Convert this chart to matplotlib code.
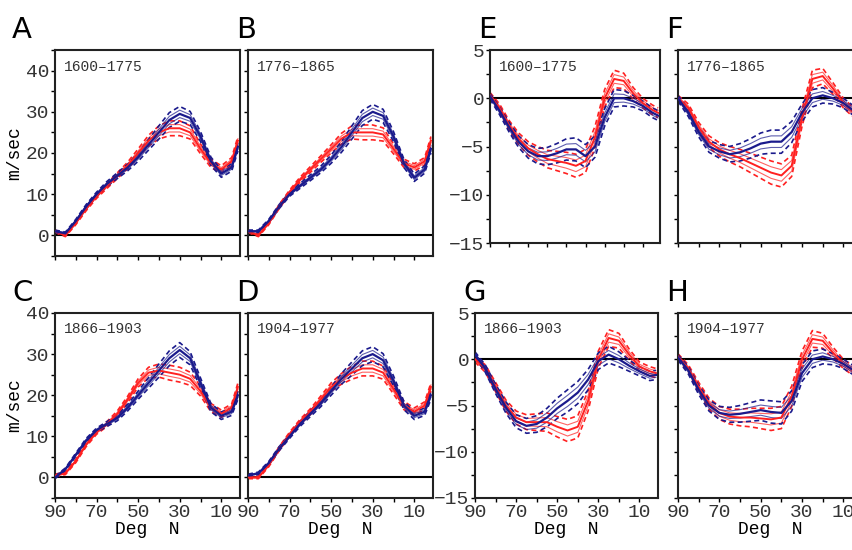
import numpy as np
import matplotlib.pyplot as plt
from matplotlib.ticker import MultipleLocator

lats = [90, 85, 80, 75, 70, 65, 60, 55, 50, 45, 40, 35, 30, 25, 20, 15, 10, 5, 2]

# zonal wind (A-D)
a_red = [1, 0, 3, 6.5, 9.5, 12, 14.5, 17, 20, 23, 25, 26, 26, 25, 21, 17.5, 16, 18, 23]
a_blue = [1, 0.5, 3.5, 7, 10, 12.5, 14.5, 16.5, 19, 22, 25, 28, 29.5, 28.5, 24, 18, 15, 16.5, 21.5]
b_red = [1, 0, 3, 7, 10.5, 13.5, 16, 18.5, 21, 23.5, 25, 25, 25, 24.5, 21, 17.5, 16.5, 18, 23]
b_blue = [1, 1, 3.5, 7, 10, 12, 14, 16, 18.5, 21.5, 25, 28.5, 30, 29, 24, 17.5, 14, 16, 21]
c_red = [0.5, 1, 4, 8, 11, 13, 15.5, 19, 23, 25.5, 26, 25.5, 25, 24, 21, 17, 15.5, 17, 22]
c_blue = [0, 2, 5.5, 9, 11.5, 13, 14.5, 17, 20, 23, 26, 29, 31, 29, 23, 17, 15, 16, 20]
d_red = [0, 0, 3, 7, 10.5, 13.5, 16, 19, 22, 24, 25.5, 26.5, 26.5, 25.5, 21.5, 17.5, 16, 17.5, 22]
d_blue = [0.5, 1, 3.5, 7, 10, 13, 15.5, 18, 21, 24, 26.5, 29, 30, 28.5, 23.5, 17.5, 15, 16, 20]
wind_spread = [0.3, 0.3, 0.4, 0.5, 0.5, 0.6, 0.7, 0.8, 1.0, 1.3, 1.6, 1.8, 1.8, 1.6, 1.2, 1.0, 0.9, 0.9, 1.0]

# anomalies (E-H)
e_red = [0.3, -1, -2.8, -4.2, -5.2, -5.8, -6.3, -6.5, -6.7, -7, -6.5, -4, 0, 2, 1.8, 0.5, -0.5, -1.2, -1.5]
e_blue = [0.2, -1.3, -3, -4.5, -5.5, -6, -6, -5.7, -5.3, -5.3, -6, -5, -2, 0, 0, -0.3, -0.8, -1.5, -1.8]
f_red = [0, -1, -3, -4.5, -5.3, -5.8, -6.2, -6.7, -7.2, -7.7, -8, -7, -2, 2, 2.3, 1, -0.5, -1.5, -2]
f_blue = [0, -1.5, -3.5, -5, -5.5, -5.8, -5.6, -5.2, -4.7, -4.5, -4.5, -3.5, -1.5, 0, 0.3, 0, -0.5, -1.3, -1.8]
g_red = [0, -1, -3, -5, -6.3, -6.8, -6.8, -6.8, -7.3, -7.7, -7.3, -4.5, 0, 2.3, 2, 0.5, -0.8, -1.3, -1.5]
g_blue = [0.5, -1, -3.2, -5.2, -6.7, -7.2, -7, -6.3, -5.3, -4.5, -3.6, -2.2, -0.2, 0.5, 0, -0.7, -1.3, -1.8, -1.7]
h_red = [0.3, -1, -3, -4.8, -5.8, -6.2, -6.3, -6.3, -6.4, -6.5, -6.3, -4, 0, 2.2, 2, 0.7, -0.5, -1.3, -2]
h_blue = [0.2, -1.2, -3.3, -5, -5.8, -6, -5.9, -5.7, -5.5, -5.7, -5.8, -4.5, -1.5, 0, 0.3, 0, -0.5, -1.2, -1.7]
anom_spread = [0.3, 0.4, 0.5, 0.6, 0.7, 0.8, 0.9, 1.0, 1.1, 1.2, 1.2, 1.1, 0.9, 0.9, 0.8, 0.6, 0.5, 0.5, 0.5]

periods = ['1600\u20131775', '1776\u20131865', '1866\u20131903', '1904\u20131977']

W, H = 852, 550
fig = plt.figure(figsize=(W / 100, H / 100), dpi=100)
mono = 'Liberation Mono'

def box(l, r, t, b):
    return [l / W, 1 - b / H, (r - l) / W, (b - t) / H]

panels = [
    ('A', box(55, 240, 50, 256), a_red, a_blue, wind_spread, periods[0], 'wind', True, False),
    ('B', box(248, 433, 50, 256), b_red, b_blue, wind_spread, periods[1], 'wind', False, False),
    ('E', box(490, 660, 50, 243), e_red, e_blue, anom_spread, periods[0], 'anom', True, False),
    ('F', box(678, 862, 50, 243), f_red, f_blue, anom_spread, periods[1], 'anom', False, False),
    ('C', box(55, 240, 313, 498), c_red, c_blue, wind_spread, periods[2], 'wind', True, True),
    ('D', box(248, 433, 313, 498), d_red, d_blue, wind_spread, periods[3], 'wind', False, True),
    ('G', box(475, 658, 313, 498), g_red, g_blue, anom_spread, periods[2], 'anom', True, True),
    ('H', box(678, 862, 313, 498), h_red, h_blue, anom_spread, periods[3], 'anom', False, True),
]

for letter, pos, red, blue, spread, period, kind, ylab, xlab in panels:
    ax = fig.add_axes(pos)
    x = np.array(lats)
    sd = np.array(spread)
    for vals, col, lw in [(red, '#ff2020', 1.4), (blue, '#1a1a8c', 1.6)]:
        v = np.array(vals)
        ax.plot(x, v, color=col, lw=lw, zorder=3)
        for k in (-0.5, 0.5):
            ax.plot(x, v + k * sd, color=col, lw=0.8, alpha=0.7, zorder=2)
        for k in (-1, 1):
            ax.plot(x, v + k * sd, color=col, lw=1.2, ls=(0, (3, 2)), zorder=2)
    ax.axhline(0, color='black', lw=1.5, zorder=1)
    ax.set_xlim(90, 1)
    if kind == 'wind':
        ax.set_ylim(-5, 45 if not xlab else 40)
        ax.yaxis.set_major_locator(MultipleLocator(10))
        ax.yaxis.set_minor_locator(MultipleLocator(5))
        ax.set_yticks([0, 10, 20, 30, 40])
    else:
        ax.set_ylim(-15, 5)
        ax.yaxis.set_major_locator(MultipleLocator(5))
        ax.yaxis.set_minor_locator(MultipleLocator(2.5))
    ax.set_xticks([90, 70, 50, 30, 10])
    ax.xaxis.set_minor_locator(MultipleLocator(10))
    ax.tick_params(which='both', direction='out', length=3, width=1, labelsize=14, pad=1)
    if not xlab:
        ax.tick_params(axis='x', labelbottom=False)
    else:
        ax.set_xlabel('Deg  N', fontsize=13, family=mono, labelpad=0)
    if not ylab:
        ax.tick_params(axis='y', labelleft=False)
    elif kind == 'wind':
        ax.set_ylabel('m/sec', fontsize=13, family=mono, labelpad=2)
    for lbl in ax.get_xticklabels() + ax.get_yticklabels():
        lbl.set_family(mono)
        lbl.set_color('#333333')
    for s in ax.spines.values():
        s.set_linewidth(1.5)
        s.set_color('#222222')
    ax.text(0.05, 0.95, period, transform=ax.transAxes, ha='left', va='top',
            fontsize=10.5, family=mono, color='#333333')
    fig.text(pos[0] - (43 if ylab and kind == 'wind' else 12) / W, pos[1] + pos[3] + 6 / H,
             letter, fontsize=21, ha='left', va='bottom')

fig.savefig('out.png', dpi=100)
